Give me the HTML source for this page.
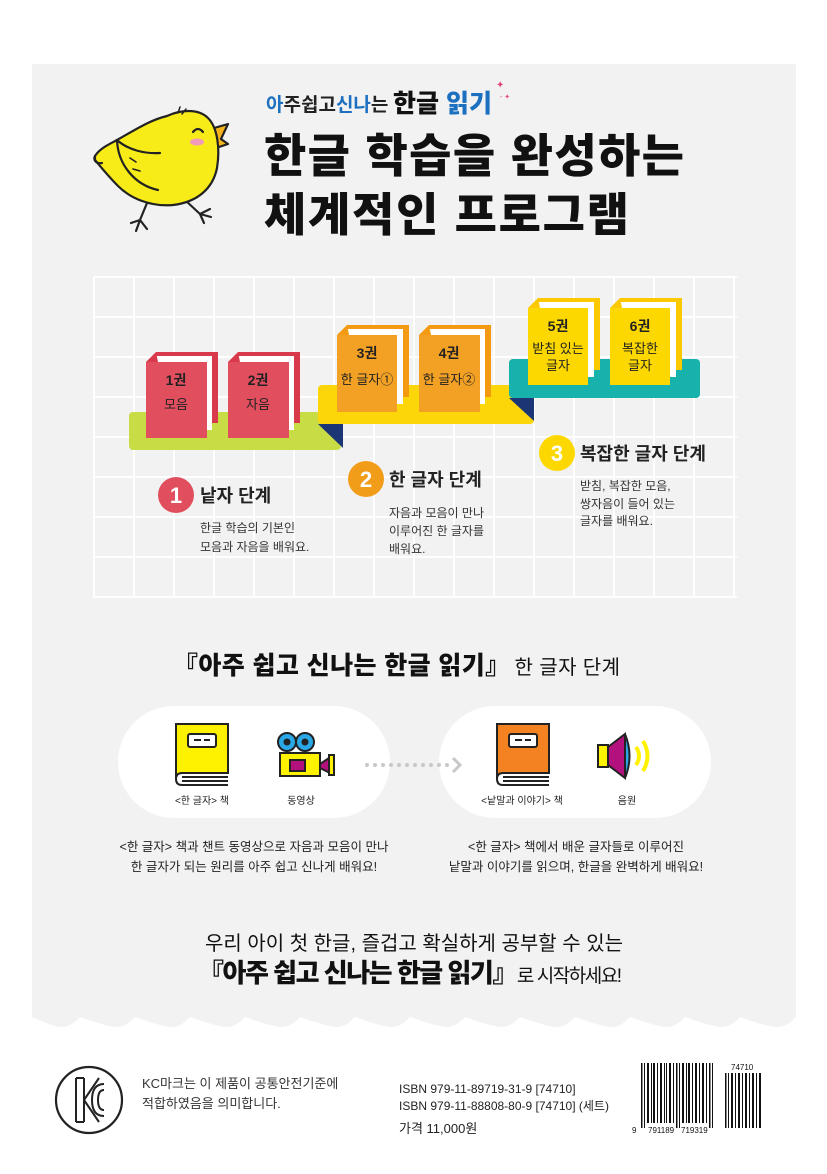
<!DOCTYPE html>
<html><head><meta charset="utf-8">
<style>
html,body{margin:0;padding:0;background:#fff;}
body{width:827px;height:1169px;overflow:hidden;font-family:"Liberation Sans","Noto Sans CJK KR",sans-serif;}
svg text{font-family:"Liberation Sans","Noto Sans CJK KR",sans-serif;}
</style></head><body>
<svg width="827" height="1169" viewBox="0 0 827 1169" xmlns="http://www.w3.org/2000/svg">
<path d="M32 64 H796 V1017 Q787 1027 777 1027 T740 1017 Q731 1027 722 1027 T685 1017 Q676 1027 667 1027 T630 1017 Q621 1027 612 1027 T575 1017 Q566 1027 557 1027 T520 1017 Q511 1027 502 1027 T465 1017 Q456 1027 447 1027 T410 1017 Q401 1027 392 1027 T355 1017 Q346 1027 337 1027 T300 1017 Q291 1027 282 1027 T245 1017 Q236 1027 227 1027 T190 1017 Q181 1027 172 1027 T135 1017 Q126 1027 117 1027 T80 1017 Q71 1027 62 1027 T32 1017 Z" fill="#f2f2f2"/>

<!-- chick -->
<g transform="translate(90,90)" stroke="#222" stroke-width="2.2" stroke-linejoin="round" stroke-linecap="round">
 <path d="M57 113 L50 130 M50 130 L41 133 M50 130 L46 141 M50 130 L57 139" fill="none"/>
 <path d="M95 110 L110 124 M110 124 L120 119 M110 124 L121 127 M110 124 L114 133" fill="none"/>
 <path d="M124 38 L138 34 L131 49 L138 54 L126 58 Z" fill="#f6b41c"/>
 <path d="M5 66 C10 58 20 54 27 50 C45 40 60 30 77 26 C90 20 108 18 118 28 C128 38 130 60 127 78 C123 98 108 112 83 115 C60 117 40 108 28 96 C18 86 10 76 5 70 Z" fill="#f8ec18"/>
 <path d="M27 50 C38 60 55 64 70 63 M27 50 C28 75 45 95 68 100 M5 66 C3 70 6 74 12 73" fill="none"/>
 <path d="M40 68 L46 72 M43 79 L50 81" fill="none" stroke-width="1.6"/>
 <path d="M103 42 Q108 36 113 42" fill="none"/>
 <path d="M88 23 L90 17 M92 24 L96 19" fill="none" stroke-width="1.5"/>
 <ellipse cx="107" cy="52" rx="7" ry="3.5" fill="#f29ab9" stroke="none"/>
</g>

<text x="266" y="111" font-size="19" font-weight="700" fill="#1d6fc0">아<tspan fill="#222">주쉽고</tspan>신나<tspan fill="#222">는</tspan></text>
<text x="393" y="112" font-size="25" font-weight="900" fill="#111">한글 <tspan fill="#1d6fc0">읽기</tspan></text>
<text x="496" y="88" font-size="10" fill="#e0457b">✦</text>
<text x="500" y="99" font-size="7" fill="#e0457b">- ✦</text>
<text x="264" y="172" font-size="46" font-weight="900" fill="#111" textLength="420">한글 학습을 완성하는</text>
<text x="264" y="231" font-size="46" font-weight="900" fill="#111" textLength="365">체계적인 프로그램</text>

<rect x="94" y="277" width="643" height="321" fill="#f2f2f2"/>
<g stroke="#fff" stroke-width="2">
 <path d="M94 277V598M134 277V598M174 277V598M214 277V598M254 277V598M294 277V598M334 277V598M374 277V598M414 277V598M454 277V598M494 277V598M534 277V598M574 277V598M614 277V598M654 277V598M694 277V598M734 277V598"/>
 <path d="M94 277H737M94 317H737M94 357H737M94 397H737M94 437H737M94 477H737M94 517H737M94 557H737M94 597H737"/>
</g>

<rect x="129" y="412" width="212" height="38" rx="4" fill="#c8dc46"/>
<path d="M318 424 H343 V448 Z" fill="#1c3575"/>
<rect x="318" y="385" width="216" height="39" rx="4" fill="#fdd60a"/>
<path d="M509 398 H534 V421 Z" fill="#1c3575"/>
<rect x="509" y="359" width="191" height="39" rx="4" fill="#17b2ab"/>

<g>
 <path d="M156 352 H218 V423 H156 Z" fill="#d83a4b"/><rect x="154" y="356" width="58" height="74" fill="#fff"/><path d="M146 362 L156 352 L158 362 Z" fill="#d83a4b"/><rect x="146" y="362" width="61" height="76" fill="#e14f5f"/>
 <path d="M238 352 H300 V423 H238 Z" fill="#d83a4b"/><rect x="236" y="356" width="58" height="74" fill="#fff"/><path d="M228 362 L238 352 L240 362 Z" fill="#d83a4b"/><rect x="228" y="362" width="61" height="76" fill="#e14f5f"/>
 <path d="M347 325 H409 V397 H347 Z" fill="#f39a12"/><rect x="345" y="329" width="58" height="75" fill="#fff"/><path d="M337 335 L347 325 L349 335 Z" fill="#f39a12"/><rect x="337" y="335" width="60" height="77" fill="#f2a125"/>
 <path d="M429 325 H491 V397 H429 Z" fill="#f39a12"/><rect x="427" y="329" width="58" height="75" fill="#fff"/><path d="M419 335 L429 325 L431 335 Z" fill="#f39a12"/><rect x="419" y="335" width="61" height="77" fill="#f2a125"/>
 <path d="M538 298 H600 V370 H538 Z" fill="#fcc800"/><rect x="536" y="302" width="58" height="75" fill="#fff"/><path d="M528 308 L538 298 L540 308 Z" fill="#fcc800"/><rect x="528" y="308" width="60" height="77" fill="#fdd800"/>
 <path d="M620 298 H682 V370 H620 Z" fill="#fcc800"/><rect x="618" y="302" width="58" height="75" fill="#fff"/><path d="M610 308 L620 298 L622 308 Z" fill="#fcc800"/><rect x="610" y="308" width="60" height="77" fill="#fdd800"/>
</g>
<g font-size="13" fill="#222" text-anchor="middle">
 <text x="176" y="385" font-weight="700" font-size="14">1권</text><text x="176" y="409">모음</text>
 <text x="258" y="385" font-weight="700" font-size="14">2권</text><text x="258" y="409">자음</text>
 <text x="367" y="358" font-weight="700" font-size="14">3권</text><text x="367" y="384">한 글자①</text>
 <text x="449" y="358" font-weight="700" font-size="14">4권</text><text x="449" y="384">한 글자②</text>
 <text x="558" y="331" font-weight="700" font-size="14">5권</text><text x="558" y="353">받침 있는</text><text x="558" y="370">글자</text>
 <text x="640" y="331" font-weight="700" font-size="14">6권</text><text x="640" y="353">복잡한</text><text x="640" y="370">글자</text>
</g>

<circle cx="176" cy="495" r="18" fill="#e14f5f"/><text x="176" y="503" font-size="22" font-weight="900" fill="#fff" text-anchor="middle">1</text>
<text x="200" y="502" font-size="18" font-weight="700" fill="#222">낱자 단계</text>
<text x="200" y="532" font-size="12" fill="#333">한글 학습의 기본인</text>
<text x="200" y="551" font-size="12" fill="#333">모음과 자음을 배워요.</text>

<circle cx="366" cy="479" r="18" fill="#f29d1a"/><text x="366" y="487" font-size="22" font-weight="900" fill="#fff" text-anchor="middle">2</text>
<text x="389" y="486" font-size="18" font-weight="700" fill="#222">한 글자 단계</text>
<text x="389" y="517" font-size="12" fill="#333">자음과 모음이 만나</text>
<text x="389" y="535" font-size="12" fill="#333">이루어진 한 글자를</text>
<text x="389" y="553" font-size="12" fill="#333">배워요.</text>

<circle cx="557" cy="453" r="18" fill="#fdd800"/><text x="557" y="461" font-size="22" font-weight="900" fill="#fff" text-anchor="middle">3</text>
<text x="580" y="460" font-size="18" font-weight="700" fill="#222">복잡한 글자 단계</text>
<text x="580" y="490" font-size="12" fill="#333">받침, 복잡한 모음,</text>
<text x="580" y="508" font-size="12" fill="#333">쌍자음이 들어 있는</text>
<text x="580" y="525" font-size="12" fill="#333">글자를 배워요.</text>

<text x="173" y="674" font-size="25" font-weight="900" fill="#111" textLength="447">『아주 쉽고 신나는 한글 읽기』<tspan font-size="20" font-weight="400" dx="4">한 글자 단계</tspan></text>

<rect x="118" y="706" width="272" height="112" rx="56" fill="#fff"/>
<rect x="439" y="706" width="272" height="112" rx="56" fill="#fff"/>
<g stroke="#222" stroke-width="2">
 <path d="M176 724 H228 V773 H182 Q176 773 176 779 Z" fill="#fff200"/>
 <path d="M176 779 Q176 785 182 785 H228 M182 777 H228 M182 781 H228" fill="none"/>
 <rect x="188" y="734" width="28" height="13" rx="2" fill="#fff"/>
 <path d="M194 740 H201 M204 740 H210" />
</g>
<g stroke="#222" stroke-width="2">
 <circle cx="287" cy="742" r="9" fill="#2aa7e6"/><circle cx="305" cy="742" r="9" fill="#2aa7e6"/>
 <circle cx="287" cy="742" r="2.5" fill="#222"/><circle cx="305" cy="742" r="2.5" fill="#222"/>
 <rect x="280" y="753" width="40" height="23" fill="#fff200"/>
 <rect x="290" y="760" width="15" height="11" fill="#b3127e"/>
 <path d="M320 764 L332 756 V774 L320 768 Z" fill="#b3127e"/>
 <rect x="329" y="755" width="5" height="20" fill="#fff200"/>
</g>
<text x="202" y="804" font-size="10" fill="#222" text-anchor="middle">&lt;한 글자&gt; 책</text>
<text x="301" y="804" font-size="10" fill="#222" text-anchor="middle">동영상</text>
<g fill="#c8c8c8">
 <circle cx="367" cy="765" r="2"/><circle cx="375" cy="765" r="2"/><circle cx="383" cy="765" r="2"/><circle cx="391" cy="765" r="2"/><circle cx="399" cy="765" r="2"/><circle cx="407" cy="765" r="2"/><circle cx="415" cy="765" r="2"/><circle cx="423" cy="765" r="2"/><circle cx="431" cy="765" r="2"/><circle cx="439" cy="765" r="2"/><circle cx="447" cy="765" r="2"/>
</g>
<path d="M453 758 L460 765 L453 772" fill="none" stroke="#c8c8c8" stroke-width="3"/>
<g stroke="#222" stroke-width="2">
 <path d="M497 724 H549 V773 H503 Q497 773 497 779 Z" fill="#f58220"/>
 <path d="M497 779 Q497 785 503 785 H549 M503 777 H549 M503 781 H549" fill="none"/>
 <rect x="509" y="734" width="28" height="13" rx="2" fill="#fff"/>
 <path d="M515 740 H522 M525 740 H531"/>
</g>
<g stroke="#222" stroke-width="2">
 <rect x="598" y="745" width="10" height="22" fill="#fff200"/>
 <path d="M608 747 L625 734 V778 L608 765 Z" fill="#b3127e"/>
 <path d="M625 734 Q634 756 625 778 Z" fill="#2aa7e6"/>
 <path d="M636 747 Q642 756 636 765" fill="none" stroke="#fff200" stroke-width="4"/>
 <path d="M643 741 Q652 756 643 771" fill="none" stroke="#fff200" stroke-width="4"/>
</g>
<text x="522" y="804" font-size="10" fill="#222" text-anchor="middle">&lt;낱말과 이야기&gt; 책</text>
<text x="627" y="804" font-size="10" fill="#222" text-anchor="middle">음원</text>

<text x="254" y="851" font-size="12.5" fill="#222" text-anchor="middle">&lt;한 글자&gt; 책과 챈트 동영상으로 자음과 모음이 만나</text>
<text x="254" y="871" font-size="12.5" fill="#222" text-anchor="middle">한 글자가 되는 원리를 아주 쉽고 신나게 배워요!</text>
<text x="576" y="851" font-size="12.5" fill="#222" text-anchor="middle">&lt;한 글자&gt; 책에서 배운 글자들로 이루어진</text>
<text x="576" y="871" font-size="12.5" fill="#222" text-anchor="middle">낱말과 이야기를 읽으며, 한글을 완벽하게 배워요!</text>

<text x="414" y="950" font-size="20" fill="#111" text-anchor="middle">우리 아이 첫 한글, 즐겁고 확실하게 공부할 수 있는</text>
<text x="198" y="982" font-size="26" font-weight="900" fill="#111" textLength="424">『아주 쉽고 신나는 한글 읽기』<tspan font-size="19" font-weight="400">로 시작하세요!</tspan></text>

<circle cx="89" cy="1100" r="33" fill="none" stroke="#222" stroke-width="2.2"/>
<path d="M76 1078 V1122 M84 1078 V1122 M76 1078 H84 M76 1122 H84 M84 1100 L99 1078 M84 1100 L99 1122 M104 1084 Q92 1084 92 1100 Q92 1116 104 1116 M104 1090 Q98 1090 98 1100 Q98 1110 104 1110" fill="none" stroke="#222" stroke-width="2"/>
<text x="142" y="1088" font-size="13" fill="#333">KC마크는 이 제품이 공통안전기준에</text>
<text x="142" y="1108" font-size="13" fill="#333">적합하였음을 의미합니다.</text>
<text x="399" y="1093" font-size="12" fill="#222">ISBN  979-11-89719-31-9 [74710]</text>
<text x="399" y="1110" font-size="12" fill="#222">ISBN  979-11-88808-80-9 [74710]  (세트)</text>
<text x="399" y="1133" font-size="13" fill="#222">가격 11,000원</text>
<g fill="#111">
 <rect x="641" y="1063" width="1.5" height="65"/><rect x="644" y="1063" width="1" height="65"/><rect x="647" y="1063" width="2" height="60"/><rect x="651" y="1063" width="1" height="60"/><rect x="653" y="1063" width="2" height="60"/><rect x="657" y="1063" width="1" height="60"/><rect x="660" y="1063" width="2" height="60"/><rect x="664" y="1063" width="1" height="60"/><rect x="666" y="1063" width="1" height="60"/><rect x="669" y="1063" width="2" height="60"/><rect x="673" y="1063" width="1" height="60"/><rect x="676" y="1063" width="1.5" height="65"/><rect x="679" y="1063" width="1" height="65"/><rect x="682" y="1063" width="2" height="60"/><rect x="686" y="1063" width="1" height="60"/><rect x="688" y="1063" width="2" height="60"/><rect x="692" y="1063" width="1" height="60"/><rect x="695" y="1063" width="2" height="60"/><rect x="699" y="1063" width="1" height="60"/><rect x="702" y="1063" width="2" height="60"/><rect x="706" y="1063" width="1" height="60"/><rect x="709" y="1063" width="1.5" height="65"/><rect x="712" y="1063" width="1" height="65"/>
 <rect x="725" y="1073" width="1.5" height="55"/><rect x="728" y="1073" width="1" height="55"/><rect x="731" y="1073" width="2" height="55"/><rect x="735" y="1073" width="1" height="55"/><rect x="738" y="1073" width="2" height="55"/><rect x="742" y="1073" width="1" height="55"/><rect x="745" y="1073" width="2" height="55"/><rect x="749" y="1073" width="1" height="55"/><rect x="752" y="1073" width="2" height="55"/><rect x="756" y="1073" width="1" height="55"/><rect x="759" y="1073" width="2" height="55"/>
</g>
<text x="731" y="1070" font-size="8" fill="#111">74710</text>
<text x="632" y="1133" font-size="8" fill="#111">9</text>
<text x="648" y="1133" font-size="8" fill="#111">791189</text>
<text x="681" y="1133" font-size="8" fill="#111">719319</text>
</svg>
</body></html>
